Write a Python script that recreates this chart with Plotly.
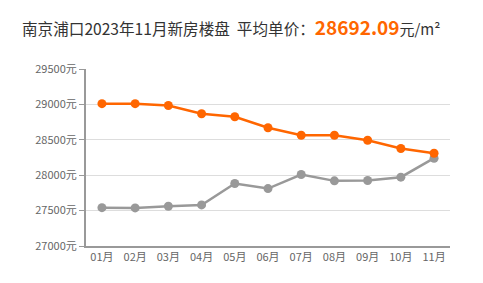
import plotly.graph_objects as go

months = ["01月", "02月", "03月", "04月", "05月", "06月", "07月", "08月", "09月", "10月", "11月"]
new_house = [29010, 29010, 28985, 28868, 28826, 28670, 28565, 28565, 28494, 28377, 28310]
second_house = [27542, 27538, 27561, 27580, 27882, 27811, 28010, 27920, 27925, 27972, 28240]
y_ticks = [27000, 27500, 28000, 28500, 29000, 29500]
y_labels = [f"{v}元" for v in y_ticks]
avg_price = "28692.09"

fig = go.Figure()
fig.add_trace(go.Scatter(x=months, y=second_house, mode="lines+markers",
                         line=dict(color="#999999", width=2.5),
                         marker=dict(color="#999999", size=9), showlegend=False))
fig.add_trace(go.Scatter(x=months, y=new_house, mode="lines+markers",
                         line=dict(color="#ff6600", width=2.5),
                         marker=dict(color="#ff6600", size=9), showlegend=False))

fig.update_layout(
    width=483, height=283,
    margin=dict(l=86, r=33, t=69, b=37),
    paper_bgcolor="white", plot_bgcolor="white",
    font=dict(family="Microsoft YaHei, Noto Sans CJK SC, sans-serif", color="#666"),
    xaxis=dict(type="category", range=[-0.48, 10.48], showgrid=False,
               showline=True, linecolor="#999", linewidth=2,
               ticks="", tickfont=dict(size=11, color="#666")),
    yaxis=dict(range=[27000, 29500], tickvals=y_ticks, ticktext=y_labels,
               showgrid=True, gridcolor="#dddddd", gridwidth=1,
               showline=True, linecolor="#999", linewidth=2,
               ticks="outside", ticklen=5, tickcolor="#999",
               tickfont=dict(size=11, color="#666"), zeroline=False),
    annotations=[dict(
        xref="paper", yref="paper",
        x=(20 - 86) / (483 - 86 - 33),
        y=1 + (69 - 27) / (283 - 69 - 37),
        showarrow=False, xanchor="left", yanchor="middle",
        text=("<span style='font-size:15.6px;color:#333'>南京浦口2023年11月新房楼盘  平均单价：</span>"
              f"<b><span style='font-size:19px;color:#ff6600'>{avg_price}</span></b>"
              "<span style='font-size:15px;color:#333'>元/m²</span>"),
    )],
)
fig.write_html("out.html")
